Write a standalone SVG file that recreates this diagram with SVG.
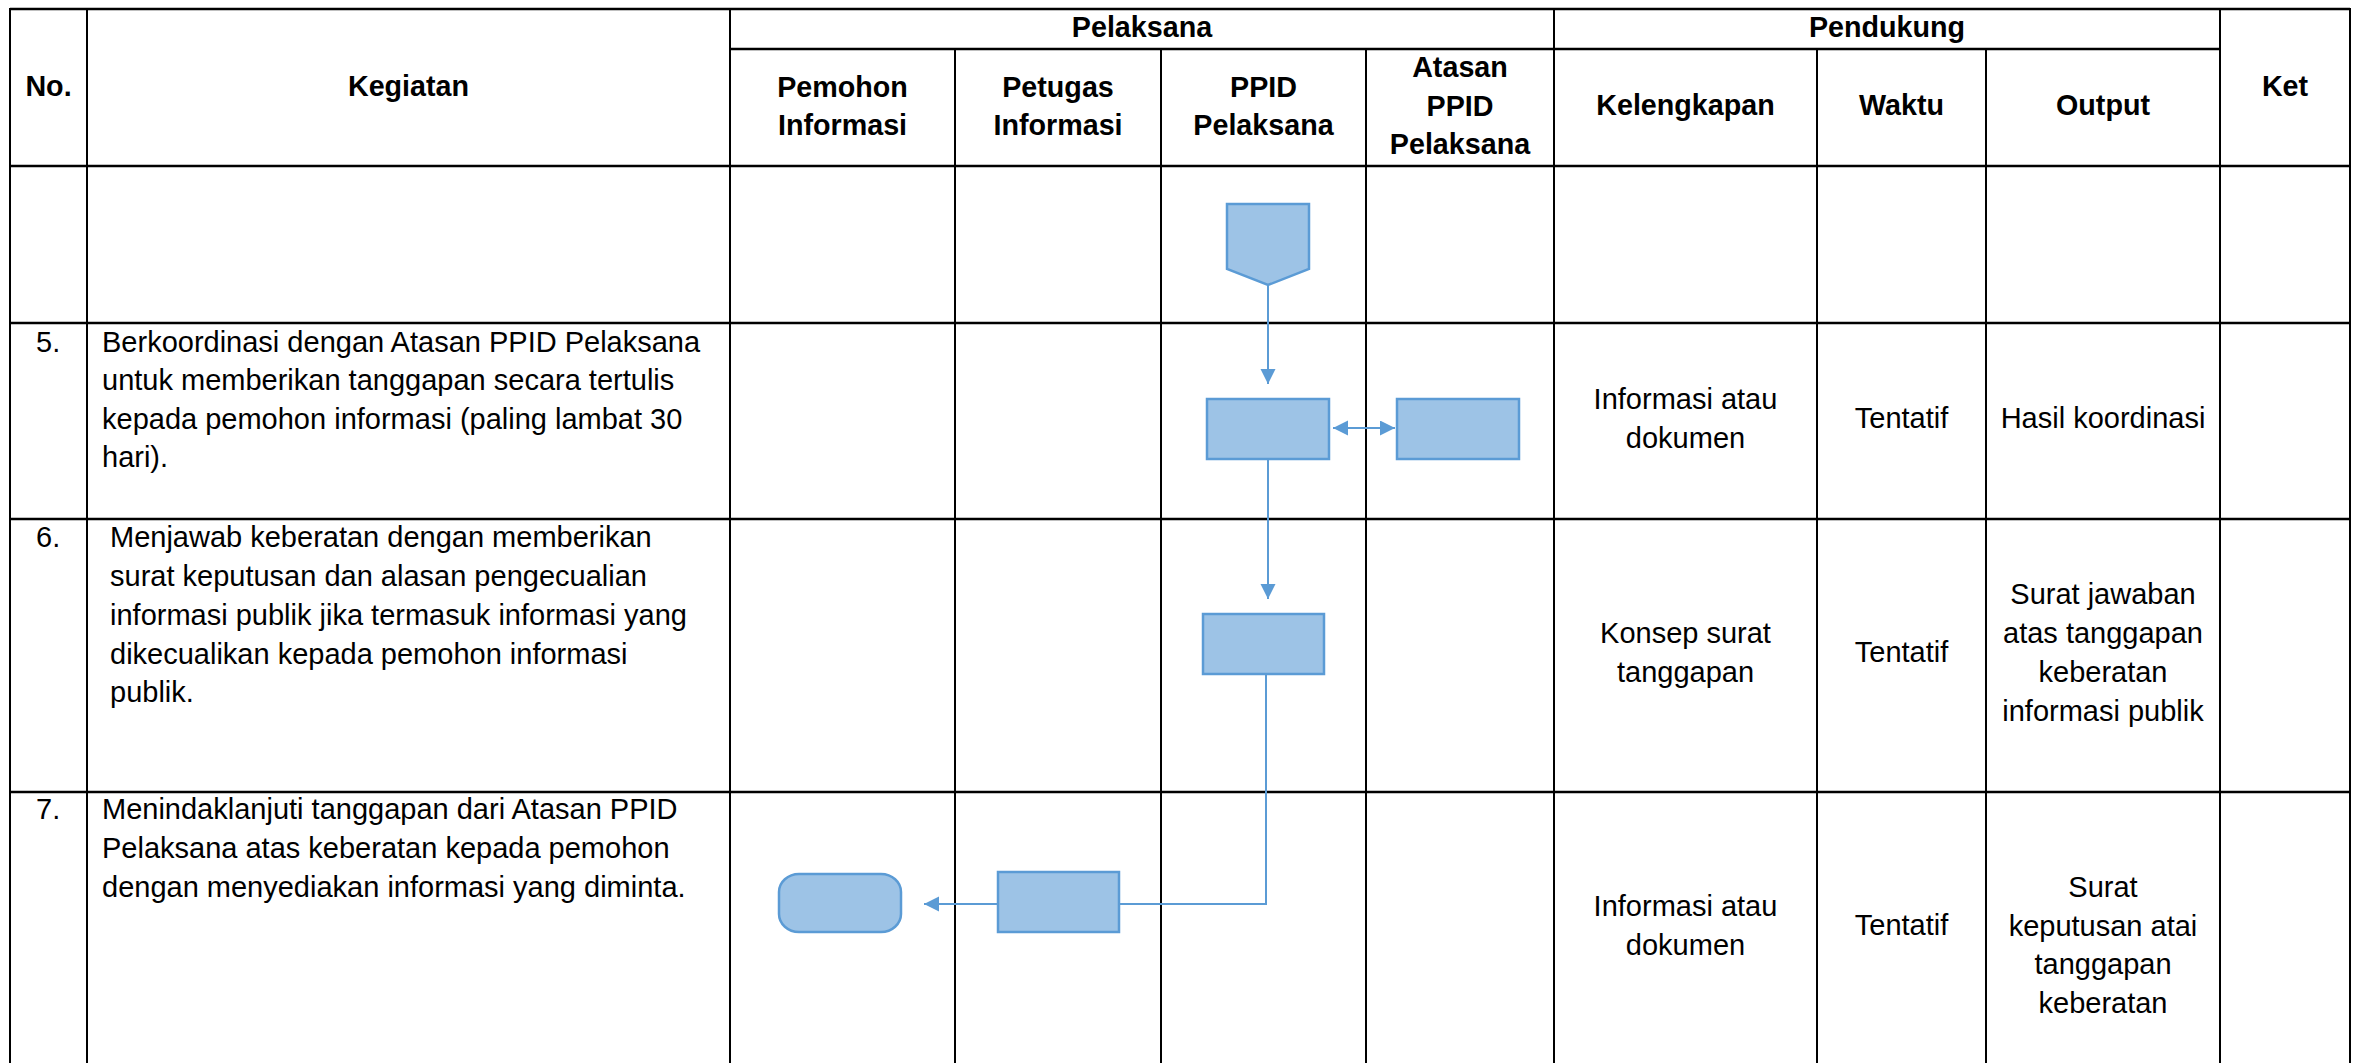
<svg xmlns="http://www.w3.org/2000/svg" width="2358" height="1063" viewBox="0 0 2358 1063">
  <style>
    .hl { stroke: #000; stroke-width: 2.5; }
    .vl { stroke: #000; stroke-width: 2; }
    text { font-family: "Liberation Sans", Arial, sans-serif; font-size: 29px; fill: #000; }
    .h { font-weight: bold; text-anchor: middle; font-size: 28.7px; }
    .c { text-anchor: middle; }
    .shape { fill: #9DC3E6; stroke: #5B9BD5; stroke-width: 2.5; }
    .conn { fill: none; stroke: #5B9BD5; stroke-width: 2; }
  </style>
  <defs>
    <marker id="arr" markerUnits="userSpaceOnUse" markerWidth="16" markerHeight="16" refX="15" refY="7.5" orient="auto-start-reverse" viewBox="0 0 16 16">
      <path d="M0,0 L15,7.5 L0,15 z" fill="#5B9BD5"/>
    </marker>
  </defs>
  <rect width="2358" height="1063" fill="#fff"/>

  <g id="grid">
    <line class="hl" x1="10" y1="9" x2="2350" y2="9"/>
    <line class="hl" x1="730" y1="49" x2="2220" y2="49"/>
    <line class="hl" x1="10" y1="166" x2="2350" y2="166"/>
    <line class="hl" x1="10" y1="323" x2="2350" y2="323"/>
    <line class="hl" x1="10" y1="519" x2="2350" y2="519"/>
    <line class="hl" x1="10" y1="792" x2="2350" y2="792"/>
    <line class="vl" x1="10" y1="8" x2="10" y2="1063"/>
    <line class="vl" x1="87" y1="8" x2="87" y2="1063"/>
    <line class="vl" x1="730" y1="8" x2="730" y2="1063"/>
    <line class="vl" x1="955" y1="49" x2="955" y2="1063"/>
    <line class="vl" x1="1161" y1="49" x2="1161" y2="1063"/>
    <line class="vl" x1="1366" y1="49" x2="1366" y2="1063"/>
    <line class="vl" x1="1554" y1="8" x2="1554" y2="1063"/>
    <line class="vl" x1="1817" y1="49" x2="1817" y2="1063"/>
    <line class="vl" x1="1986" y1="49" x2="1986" y2="1063"/>
    <line class="vl" x1="2220" y1="8" x2="2220" y2="1063"/>
    <line class="vl" x1="2350" y1="8" x2="2350" y2="1063"/>
  </g>

  <g id="header">
    <text class="h" x="48.5" y="96">No.</text>
    <text class="h" x="408.5" y="96">Kegiatan</text>
    <text class="h" x="1142" y="37">Pelaksana</text>
    <text class="h" x="1887" y="37">Pendukung</text>
    <text class="h" x="842.5" y="97">Pemohon</text>
    <text class="h" x="842.5" y="135">Informasi</text>
    <text class="h" x="1058" y="97">Petugas</text>
    <text class="h" x="1058" y="135">Informasi</text>
    <text class="h" x="1263.5" y="97">PPID</text>
    <text class="h" x="1263.5" y="135">Pelaksana</text>
    <text class="h" x="1460" y="77">Atasan</text>
    <text class="h" x="1460" y="115.5">PPID</text>
    <text class="h" x="1460" y="154">Pelaksana</text>
    <text class="h" x="1685.5" y="115">Kelengkapan</text>
    <text class="h" x="1901.5" y="115">Waktu</text>
    <text class="h" x="2103" y="115">Output</text>
    <text class="h" x="2285" y="96">Ket</text>
  </g>

  <g id="row5">
    <text x="36" y="352">5.</text>
    <text x="102" y="352">Berkoordinasi dengan Atasan PPID Pelaksana</text>
    <text x="102" y="390">untuk memberikan tanggapan secara tertulis</text>
    <text x="102" y="428.5">kepada pemohon informasi (paling lambat 30</text>
    <text x="102" y="467">hari).</text>
    <text class="c" x="1685.5" y="409">Informasi atau</text>
    <text class="c" x="1685.5" y="447.5">dokumen</text>
    <text class="c" x="1901.5" y="428">Tentatif</text>
    <text class="c" x="2103" y="428">Hasil koordinasi</text>
  </g>

  <g id="row6">
    <text x="36" y="547">6.</text>
    <text x="110" y="547">Menjawab keberatan dengan memberikan</text>
    <text x="110" y="586">surat keputusan dan alasan pengecualian</text>
    <text x="110" y="625">informasi publik jika termasuk informasi yang</text>
    <text x="110" y="663.5">dikecualikan kepada pemohon informasi</text>
    <text x="110" y="702">publik.</text>
    <text class="c" x="1685.5" y="643">Konsep surat</text>
    <text class="c" x="1685.5" y="682">tanggapan</text>
    <text class="c" x="1901.5" y="662">Tentatif</text>
    <text class="c" x="2103" y="604">Surat jawaban</text>
    <text class="c" x="2103" y="643">atas tanggapan</text>
    <text class="c" x="2103" y="682">keberatan</text>
    <text class="c" x="2103" y="721">informasi publik</text>
  </g>

  <g id="row7">
    <text x="36" y="819">7.</text>
    <text x="102" y="819">Menindaklanjuti tanggapan dari Atasan PPID</text>
    <text x="102" y="858">Pelaksana atas keberatan kepada pemohon</text>
    <text x="102" y="897">dengan menyediakan informasi yang diminta.</text>
    <text class="c" x="1685.5" y="916">Informasi atau</text>
    <text class="c" x="1685.5" y="955">dokumen</text>
    <text class="c" x="1901.5" y="935">Tentatif</text>
    <text class="c" x="2103" y="897">Surat</text>
    <text class="c" x="2103" y="936">keputusan atai</text>
    <text class="c" x="2103" y="974">tanggapan</text>
    <text class="c" x="2103" y="1013">keberatan</text>
  </g>

  <g id="connectors">
    <path class="conn" d="M1268,285 V384" marker-end="url(#arr)"/>
    <path class="conn" d="M1333,428 H1395" stroke-width="3" marker-start="url(#arr)" marker-end="url(#arr)"/>
    <path class="conn" d="M1268,459 V599" marker-end="url(#arr)"/>
    <path class="conn" d="M1266,674 V904 H1119"/>
    <path class="conn" d="M998,904 H924" marker-end="url(#arr)"/>
  </g>

  <g id="node-offpage">
    <polygon class="shape" points="1227,204 1309,204 1309,269 1268,285 1227,269"/>
  </g>
  <g id="node-ppid-koordinasi">
    <rect class="shape" x="1207" y="399" width="122" height="60"/>
  </g>
  <g id="node-atasan-koordinasi">
    <rect class="shape" x="1397" y="399" width="122" height="60"/>
  </g>
  <g id="node-ppid-jawab">
    <rect class="shape" x="1203" y="614" width="121" height="60"/>
  </g>
  <g id="node-petugas-tindaklanjut">
    <rect class="shape" x="998" y="872" width="121" height="60"/>
  </g>
  <g id="node-pemohon-selesai">
    <rect class="shape" x="779" y="874" width="122" height="58" rx="20" ry="18"/>
  </g>
</svg>
